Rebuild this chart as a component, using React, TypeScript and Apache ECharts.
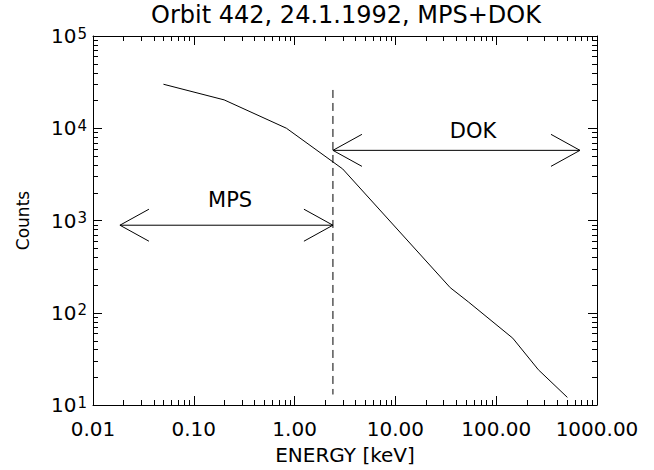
import React, { useEffect, useRef } from "react";
import * as echarts from "echarts";

// ---- data ----
const energy = [0.05, 0.2, 0.83, 3.0, 35, 53, 146, 262, 508];
const counts = [30000, 20300, 10000, 3620, 187, 131, 53, 24.1, 12.1];

const xTickValues = [0.01, 0.1, 1, 10, 100, 1000];
const xTickLabels = ["0.01", "0.10", "1.00", "10.00", "100.00", "1000.00"];
const yTickValues = [10, 100, 1000, 10000, 100000];
const yTickExponents = ["1", "2", "3", "4", "5"];

const thresholdEnergy = [2.4, 2.4];
const thresholdCounts = [26000, 13];

const mpsRange = [0.0185, 2.4];
const mpsLevel = 889;
const mpsLabelAt = [0.229, 1687];
const dokRange = [2.4, 678];
const dokLevel = 5760;
const dokLabelAt = [58.9, 9400];

const titleText = "Orbit 442, 24.1.1992, MPS+DOK";
const xName = "ENERGY [keV]";
const yName = "Counts";

const X_MIN = 0.01;
const X_MAX = 1000;
const Y_MIN = 10;
const Y_MAX = 100000;

const FONT = "DejaVu Sans";
const INK = "#000";

const MAJOR_LEN = 9;
const MINOR_LEN = 5;

function nearestIndex(values: number[], v: number) {
  let best = 0;
  let bd = Infinity;
  values.forEach((t, i) => {
    const d = Math.abs(Math.log10(t) - Math.log10(v));
    if (d < bd) {
      bd = d;
      best = i;
    }
  });
  return best;
}

function minorValues(lo: number, hi: number) {
  const out: number[] = [];
  for (let k = Math.round(Math.log10(lo)); k < Math.round(Math.log10(hi)); k++) {
    for (let m = 2; m <= 9; m++) out.push(m * Math.pow(10, k));
  }
  return out;
}

function arrowSeries(range: number[], level: number, labelAt: number[], text: string) {
  return {
    type: "custom",
    coordinateSystem: "cartesian2d",
    clip: false,
    silent: true,
    z: 5,
    data: [[range[0], level, range[1], labelAt[0], labelAt[1]]],
    encode: { x: [0, 2, 3], y: [1, 4] },
    renderItem: (_params: any, api: any) => {
      const a = api.coord([api.value(0), api.value(1)]);
      const b = api.coord([api.value(2), api.value(1)]);
      const t = api.coord([api.value(3), api.value(4)]);
      const style = { stroke: INK, lineWidth: 1, fill: "none" };
      const hx = 29;
      const hy = 16;
      return {
        type: "group",
        children: [
          { type: "line", shape: { x1: a[0], y1: a[1], x2: b[0], y2: b[1] }, style },
          {
            type: "polyline",
            shape: { points: [[a[0] + hx, a[1] - hy], [a[0], a[1]], [a[0] + hx, a[1] + hy]] },
            style,
          },
          {
            type: "polyline",
            shape: { points: [[b[0] - hx, b[1] - hy], [b[0], b[1]], [b[0] - hx, b[1] + hy]] },
            style,
          },
          {
            type: "text",
            x: t[0],
            y: t[1],
            style: {
              text,
              fill: INK,
              fontSize: 21,
              fontFamily: FONT,
              align: "center",
              verticalAlign: "middle",
            },
          },
        ],
      };
    },
  };
}

export default function App() {
  const ref = useRef<HTMLDivElement>(null);

  useEffect(() => {
    if (!ref.current) return;
    const chart = echarts.init(ref.current, null, { renderer: "svg" });

    const tickOpt = { show: true, inside: true, length: MAJOR_LEN, lineStyle: { color: INK, width: 1 } };
    const lineOpt = { show: true, lineStyle: { color: INK, width: 1 } };

    const titleGraphic = {
      type: "text",
      x: 346,
      y: 15,
      style: {
        text: titleText,
        fill: INK,
        fontSize: 24,
        fontFamily: FONT,
        align: "center",
        verticalAlign: "middle",
      },
    };

    const option: any = {
      animation: false,
      backgroundColor: "#fff",
      grid: { left: 93, right: 57, top: 36, bottom: 64 },
      graphic: [titleGraphic],
      xAxis: [
        {
          type: "log",
          position: "bottom",
          min: X_MIN,
          max: X_MAX,
          splitNumber: 5,
          splitLine: { show: false },
          axisLine: lineOpt,
          axisTick: tickOpt,
          name: xName,
          nameLocation: "middle",
          nameGap: 40,
          nameTextStyle: { color: INK, fontSize: 20, fontFamily: FONT },
          axisLabel: {
            color: INK,
            fontSize: 20,
            fontFamily: FONT,
            margin: 14,
            formatter: (v: number) => xTickLabels[nearestIndex(xTickValues, v)],
          },
        },
        {
          type: "log",
          position: "top",
          min: X_MIN,
          max: X_MAX,
          splitNumber: 5,
          splitLine: { show: false },
          axisLine: lineOpt,
          axisTick: tickOpt,
          axisLabel: { show: false },
        },
      ],
      yAxis: [
        {
          type: "log",
          position: "left",
          min: Y_MIN,
          max: Y_MAX,
          splitNumber: 4,
          splitLine: { show: false },
          axisLine: lineOpt,
          axisTick: tickOpt,
          name: yName,
          nameLocation: "middle",
          nameGap: 62,
          nameRotate: 90,
          nameTextStyle: { color: INK, fontSize: 17, fontFamily: FONT },
          axisLabel: {
            margin: 6,
            formatter: (v: number) => `{b|10}{s|${yTickExponents[nearestIndex(yTickValues, v)]}}`,
            rich: {
              b: { fontSize: 20, fontFamily: FONT, color: INK, lineHeight: 20, verticalAlign: "bottom" },
              s: {
                fontSize: 15,
                fontFamily: FONT,
                color: INK,
                lineHeight: 14,
                padding: [0, 0, 14, 1],
                verticalAlign: "top",
              },
            },
          },
        },
        {
          type: "log",
          position: "right",
          min: Y_MIN,
          max: Y_MAX,
          splitNumber: 4,
          splitLine: { show: false },
          axisLine: lineOpt,
          axisTick: tickOpt,
          axisLabel: { show: false },
        },
      ],
      series: [
        {
          type: "line",
          data: energy.map((e, i) => [e, counts[i]]),
          showSymbol: false,
          symbol: "none",
          lineStyle: { color: INK, width: 1 },
          silent: true,
          z: 4,
        },
        {
          type: "line",
          data: thresholdEnergy.map((e, i) => [e, thresholdCounts[i]]),
          showSymbol: false,
          symbol: "none",
          lineStyle: { color: INK, width: 1, type: [8, 5] },
          silent: true,
          z: 3,
        },
        arrowSeries(mpsRange, mpsLevel, mpsLabelAt, "MPS"),
        arrowSeries(dokRange, dokLevel, dokLabelAt, "DOK"),
      ],
    };

    chart.setOption(option);

    // minor ticks on all four sides, positioned through the axes' own scales
    const ticks: any[] = [];
    const tickStyle = { stroke: INK, lineWidth: 1 };
    const c0 = chart.convertToPixel({ gridIndex: 0 }, [X_MIN, Y_MIN]) as number[];
    const c1 = chart.convertToPixel({ gridIndex: 0 }, [X_MAX, Y_MAX]) as number[];
    const left = c0[0];
    const right = c1[0];
    const bottom = c0[1];
    const top = c1[1];
    minorValues(X_MIN, X_MAX).forEach((v) => {
      const p = chart.convertToPixel({ gridIndex: 0 }, [v, Y_MIN]) as number[];
      const px = Math.round(p[0]) + 0.5;
      ticks.push({ type: "line", shape: { x1: px, y1: bottom, x2: px, y2: bottom - MINOR_LEN }, style: tickStyle });
      ticks.push({ type: "line", shape: { x1: px, y1: top, x2: px, y2: top + MINOR_LEN }, style: tickStyle });
    });
    minorValues(Y_MIN, Y_MAX).forEach((v) => {
      const p = chart.convertToPixel({ gridIndex: 0 }, [X_MIN, v]) as number[];
      const py = Math.round(p[1]) + 0.5;
      ticks.push({ type: "line", shape: { x1: left, y1: py, x2: left + MINOR_LEN, y2: py }, style: tickStyle });
      ticks.push({ type: "line", shape: { x1: right, y1: py, x2: right - MINOR_LEN, y2: py }, style: tickStyle });
    });
    chart.setOption({ graphic: [titleGraphic, ...ticks] });

    return () => {
      chart.dispose();
    };
  }, []);

  return (
    <div
      ref={ref}
      style={{ position: "fixed", left: 0, top: 0, width: 654, height: 470, background: "#fff" }}
    />
  );
}
